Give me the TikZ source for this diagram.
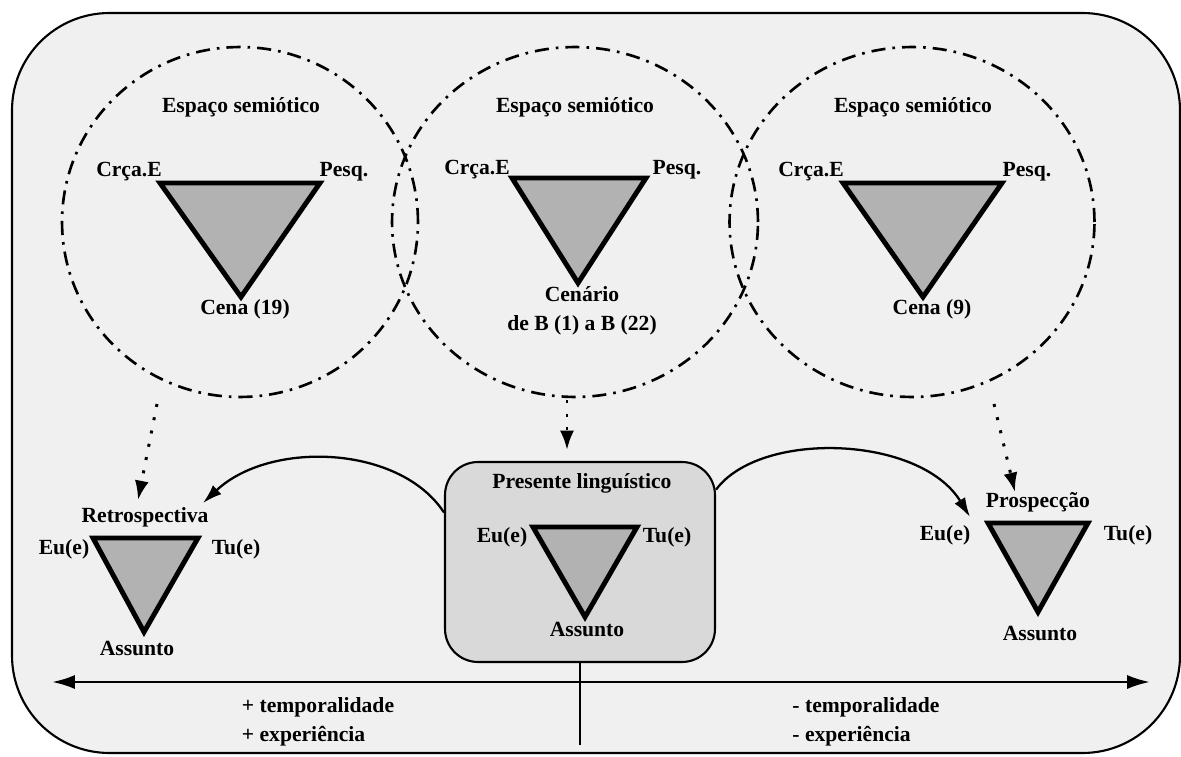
\documentclass[tikz,border=0pt]{standalone}
\usepackage{fontspec}
\setmainfont{Liberation Serif}
\usetikzlibrary{shapes.geometric,arrows.meta}

\definecolor{framegray}{gray}{0.94}
\definecolor{boxgray}{gray}{0.85}
\definecolor{trigray}{gray}{0.70}

\tikzset{
  lab/.style={font=\fontsize{12.3}{16.5}\selectfont\bfseries, inner sep=1pt},
  semio/.style={ellipse, draw, line width=1.5pt,
    dash pattern=on 8pt off 4pt on 1.5pt off 4pt,
    minimum width=7.12cm, minimum height=7cm},
  tri/.style={draw, line width=2.8pt, fill=trigray, line join=miter},
  dotarrow/.style={line width=1.7pt, dash pattern=on 1.7pt off 6pt, -{Latex[length=11pt,width=8pt]}},
  curvearrow/.style={line width=1.3pt, -{Latex[length=11pt,width=7pt]}},
}

\begin{document}
\begin{tikzpicture}[x=0.02cm, y=-0.02cm]

    % Fix the page to the size of the reference
    \useasboundingbox (0,0) rectangle (1181,757);

    % Outer frame with rounded corners
    \draw[line width=1.2pt, fill=framegray, rounded corners=1.95cm] (12,13) rectangle (1180,753);

    % The three semiotic spaces (dash-dot ellipses)
    \node[semio] (sem1) at (240,222) {};
    \node[semio, minimum width=7.32cm] (sem2) at (575,222) {};
    \node[semio, minimum width=7.3cm] (sem3) at (912,222) {};

    % Titles of the semiotic spaces
    \node[lab] (tit1) at (241,107) {Espaço semiótico};
    \node[lab] (tit2) at (575,107) {Espaço semiótico};
    \node[lab] (tit3) at (913,107) {Espaço semiótico};

    % Left triangle: Crca.E, Pesq., Cena (19)
    \coordinate (T1a) at (160,183);
    \coordinate (T1b) at (320,183);
    \coordinate (T1c) at (241,297);
    \draw[tri] (T1a) -- (T1b) -- (T1c) -- cycle;
    \node[lab] (crca1) at (129,172) {Crça.E};
    \node[lab] (pesq1) at (344,172) {Pesq.};
    \node[lab] (cena1) at (245,309) {Cena (19)};

    % Middle triangle: Crca.E, Pesq., Cenario
    \coordinate (T2a) at (512,178);
    \coordinate (T2b) at (646,178);
    \coordinate (T2c) at (578,283);
    \draw[tri] (T2a) -- (T2b) -- (T2c) -- cycle;
    \node[lab] (crca2) at (477,170) {Crça.E};
    \node[lab] (pesq2) at (677,170) {Pesq.};
    \node[lab, align=center] (cenario) at (582,311) {Cenário\\de B (1) a B (22)};

    % Right triangle: Crca.E, Pesq., Cena (9)
    \coordinate (T3a) at (843,183);
    \coordinate (T3b) at (1002,183);
    \coordinate (T3c) at (923,297);
    \draw[tri] (T3a) -- (T3b) -- (T3c) -- cycle;
    \node[lab] (crca3) at (811,172) {Crça.E};
    \node[lab] (pesq3) at (1027,172) {Pesq.};
    \node[lab] (cena3) at (932,309) {Cena (9)};

    % Box of the linguistic present
    \node[draw, line width=1.2pt, rounded corners=0.66cm, fill=boxgray,
          minimum width=5.4cm, minimum height=4cm] (pres) at (580,562) {};
    \node[lab] (prestit) at (582,483) {Presente linguístico};
    \coordinate (T4a) at (533,527);
    \coordinate (T4b) at (637,527);
    \coordinate (T4c) at (585,617);
    \draw[tri] (T4a) -- (T4b) -- (T4c) -- cycle;
    \node[lab] (eu4) at (502,537) {Eu(e)};
    \node[lab] (tu4) at (667,537) {Tu(e)};
    \node[lab] (ass4) at (587,629) {Assunto};

    % Retrospective triangle
    \node[lab] (retro) at (145,517) {Retrospectiva};
    \coordinate (T5a) at (93,538);
    \coordinate (T5b) at (198,538);
    \coordinate (T5c) at (144,632);
    \draw[tri] (T5a) -- (T5b) -- (T5c) -- cycle;
    \node[lab] (eu5) at (64,549) {Eu(e)};
    \node[lab] (tu5) at (236,549) {Tu(e)};
    \node[lab] (ass5) at (137,648) {Assunto};

    % Prospective triangle
    \node[lab] (prosp) at (1038,502) {Prospecção};
    \coordinate (T6a) at (988,523);
    \coordinate (T6b) at (1088,523);
    \coordinate (T6c) at (1038,612);
    \draw[tri] (T6a) -- (T6b) -- (T6c) -- cycle;
    \node[lab] (eu6) at (945,535) {Eu(e)};
    \node[lab] (tu6) at (1128,535) {Tu(e)};
    \node[lab] (ass6) at (1040,633) {Assunto};

    % Dotted arrows from the semiotic spaces down to the triangles
    \coordinate (d1s) at (157,404);
    \coordinate (d1e) at (138,500);
    \coordinate (d2s) at (567,400);
    \coordinate (d2e) at (567,450);
    \coordinate (d3s) at (994,404);
    \coordinate (d3e) at (1015,492);
    \draw[dotarrow] (d1s) -- (d1e);
    \draw[dotarrow] (d2s) -- (d2e);
    \draw[dotarrow] (d3s) -- (d3e);

    % Curved arrows from the present to retrospective and prospective
    \coordinate (c1e) at (203,503);
    \coordinate (c2e) at (970,517);
    \draw[curvearrow] (pres.160) .. controls (400,445) and (270,440) .. (c1e);
    \draw[curvearrow] (pres.28) .. controls (760,430) and (920,435) .. (c2e);

    % Time axis with a mark under the present
    \coordinate (axl) at (52,682);
    \coordinate (axr) at (1150,682);
    \coordinate (axd) at (580,745);
    \draw[line width=1.5pt, {Latex[length=13pt,width=8pt]}-{Latex[length=13pt,width=8pt]}] (axl) -- (axr);
    \draw[line width=1.3pt] (pres.south) -- (axd);

    % Labels under the axis
    \node[lab, align=left] (plus) at (318,722) {+ temporalidade\\+ experiência};
    \node[lab, align=left] (minus) at (866,722) {- temporalidade\\- experiência};

\end{tikzpicture}
\end{document}
